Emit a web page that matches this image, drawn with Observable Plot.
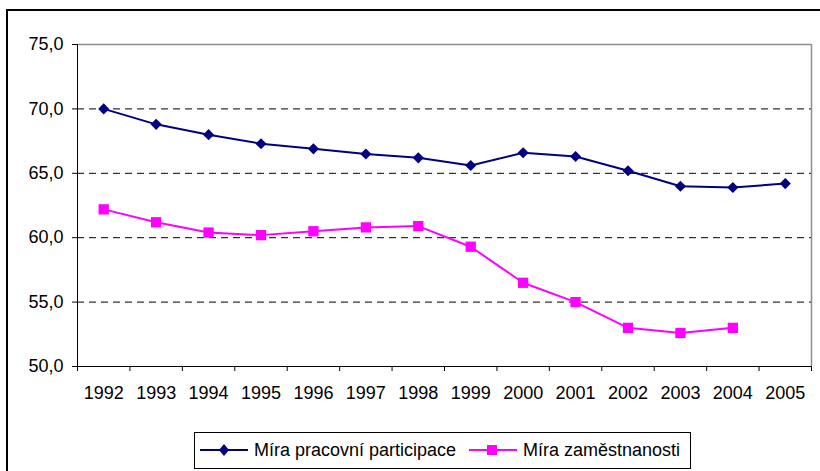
<!DOCTYPE html>
<html>
<head>
<meta charset="utf-8">
<script src="https://cdn.jsdelivr.net/npm/d3@7"></script>
<script src="https://cdn.jsdelivr.net/npm/@observablehq/plot@0.6"></script>
<style>
  body { margin: 0; background: #fff; font-family: "Liberation Sans", Arial, sans-serif; }
  #wrap { position: relative; width: 820px; height: 471px; overflow: hidden; background: #fff; }
  #border { position: absolute; left: 6px; top: 9px; width: 900px; height: 600px; border: 2px solid #000; box-sizing: border-box; }
  #chart { position: absolute; left: 0; top: 0; }
  #legend { position: absolute; left: 194px; top: 432px; width: 497px; height: 37px; border: 1px solid #000; box-sizing: border-box; background: #fff; font-size: 18px; color: #000; }
  #legend .sym { position: absolute; top: 10px; }
  #legend .lab { position: absolute; top: 7px; white-space: nowrap; line-height: 20px; }
</style>
</head>
<body>
<div id="wrap">
  <div id="border"></div>
  <div id="chart"></div>
  <div id="legend"></div>
</div>
<script>
const years = [1992, 1993, 1994, 1995, 1996, 1997, 1998, 1999, 2000, 2001, 2002, 2003, 2004, 2005];
const participation = [70.0, 68.8, 68.0, 67.3, 66.9, 66.5, 66.2, 65.6, 66.6, 66.3, 65.2, 64.0, 63.9, 64.2];
const employment = [62.2, 61.2, 60.4, 60.2, 60.5, 60.8, 60.9, 59.3, 56.5, 55.0, 53.0, 52.6, 53.0, null];
const seriesNames = ["Míra pracovní participace", "Míra zaměstnanosti"];
const seriesColors = ["#000080", "#FF00FF"];
const yTicks = [50, 55, 60, 65, 70, 75];
const gridValues = [55, 60, 65, 70];

const xMin = years[0] - 0.5;
const xMax = years[years.length - 1] + 0.5;
const boundaries = d3.range(xMin, xMax + 0.01, 1);

const partData = years.map((year, i) => ({year, value: participation[i]}));
const empData = years.map((year, i) => ({year, value: employment[i]})).filter(d => d.value != null);

const fmt = d => d.toFixed(1).replace(".", ",");

const chart = Plot.plot({
  width: 820,
  height: 471,
  marginLeft: 77,
  marginRight: 9,
  marginTop: 44,
  marginBottom: 105,
  style: { fontFamily: "'Liberation Sans', Arial, sans-serif", fontSize: "18px", color: "#000", background: "transparent" },
  x: { type: "linear", domain: [xMin, xMax] },
  y: { domain: [50, 75] },
  marks: [
    Plot.ruleY(gridValues, { stroke: "#000", strokeWidth: 1, strokeDasharray: "7,5" }),
    Plot.ruleY([yTicks[yTicks.length - 1]], { stroke: "#8c8c8c", strokeWidth: 1.5 }),
    Plot.ruleX([xMax], { stroke: "#8c8c8c", strokeWidth: 1.5 }),
    Plot.ruleX([xMin], { stroke: "#000", strokeWidth: 1 }),
    Plot.ruleY([yTicks[0]], { stroke: "#000", strokeWidth: 1 }),
    Plot.axisY({ ticks: yTicks, tickSize: 5, tickPadding: 9, tickFormat: fmt, fontSize: 18, label: null, stroke: "#000" }),
    Plot.axisX({ ticks: boundaries, tickSize: 5, tickFormat: () => "", label: null, stroke: "#000" }),
    Plot.axisX({ ticks: years, tickSize: 0, tickPadding: 20, tickFormat: d => String(d), fontSize: 18, label: null }),
    Plot.line(partData, { x: "year", y: "value", stroke: seriesColors[0], strokeWidth: 2 }),
    Plot.dot(partData, { x: "year", y: "value", symbol: "diamond2", r: 5, fill: seriesColors[0] }),
    Plot.line(empData, { x: "year", y: "value", stroke: seriesColors[1], strokeWidth: 2 }),
    Plot.dot(empData, { x: "year", y: "value", symbol: "square", r: 5.8, fill: seriesColors[1] })
  ]
});
document.getElementById("chart").appendChild(chart);

// Legend
const legend = document.getElementById("legend");
const items = [
  { name: seriesNames[0], color: seriesColors[0], sym: "diamond", symLeft: 5, labLeft: 59 },
  { name: seriesNames[1], color: seriesColors[1], sym: "square", symLeft: 274, labLeft: 328 }
];
items.forEach(it => {
  const shape = it.sym === "diamond"
    ? `<path d="M24,1 L29,7 L24,13 L19,7 Z" fill="${it.color}"/>`
    : `<rect x="18" y="2" width="10" height="10" fill="${it.color}"/>`;
  legend.insertAdjacentHTML("beforeend",
    `<svg class="sym" style="left:${it.symLeft}px" width="48" height="14"><line x1="0" y1="7" x2="48" y2="7" stroke="${it.color}" stroke-width="2"/>${shape}</svg>` +
    `<span class="lab" style="left:${it.labLeft}px">${it.name}</span>`);
});
</script>
</body>
</html>
